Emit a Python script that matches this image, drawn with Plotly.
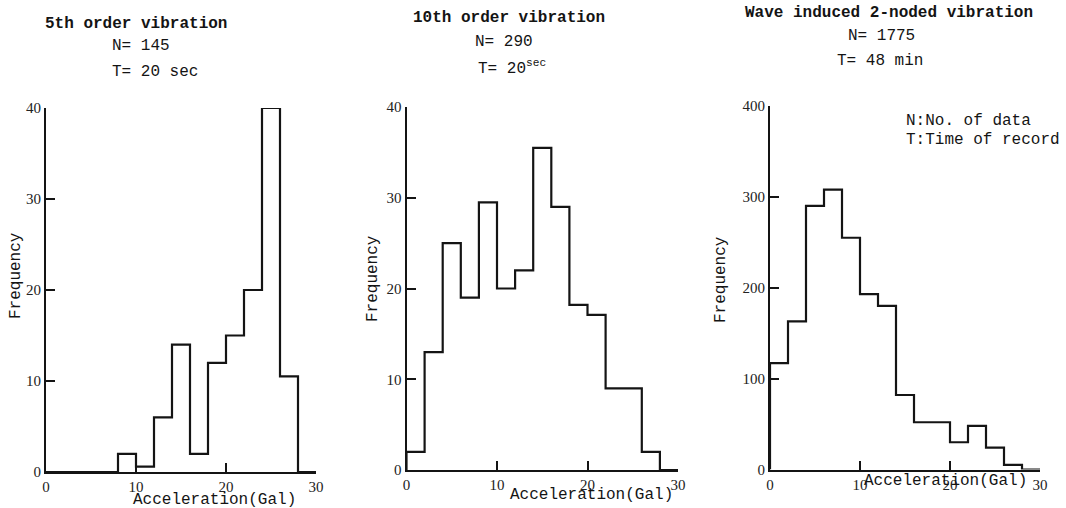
import plotly.graph_objects as go

W, H = 1066, 508

bin_edges = [0, 2, 4, 6, 8, 10, 12, 14, 16, 18, 20, 22, 24, 26, 28, 30]

freq_5th = [0, 0, 0, 0, 2, 0.6, 6, 14, 2, 12, 15, 20, 40, 10.5, 0]
freq_10th = [2, 13, 25, 19, 29.5, 20, 22, 35.5, 29, 18.2, 17.1, 9, 9, 2, 0]
freq_wave = [117, 163, 290, 308, 255, 193, 180, 82, 52, 52, 30, 48, 24, 5, 0]

titles = ["5th order vibration", "10th order vibration", "Wave induced 2-noded vibration"]
n_labels = ["N= 145", "N= 290", "N= 1775"]
t_labels = ["T= 20 sec", "T= 20<sup>sec</sup>", "T= 48 min"]
x_ticks = [0, 10, 20, 30]
y_ticks_small = [0, 10, 20, 30, 40]
y_ticks_big = [0, 100, 200, 300, 400]

# panel geometry in page pixels: (x0, x30, ybase, ytop)
panels = [
    (46, 316, 472, 108),
    (406.5, 678, 470, 107),
    (770, 1040, 469.5, 106),
]
yranges = [40, 40, 400]
series = [freq_5th, freq_10th, freq_wave]
yticks = [y_ticks_small, y_ticks_small, y_ticks_big]

def fx(px):
    return px / W

def fy(py):
    return 1 - py / H

fig = go.Figure()
MONO = "Liberation Mono"
SERIF = "Liberation Serif"
INK = "#141414"

for i in range(3):
    counts = series[i]
    xs, ys = [bin_edges[0]], [0]
    for k, c in enumerate(counts):
        xs += [bin_edges[k], bin_edges[k + 1]]
        ys += [c, c]
    xs.append(bin_edges[-1]); ys.append(0)
    suffix = "" if i == 0 else str(i + 1)
    fig.add_trace(go.Scatter(x=xs, y=ys, mode="lines",
                             line=dict(color=INK, width=2.2),
                             xaxis="x" + suffix, yaxis="y" + suffix,
                             cliponaxis=False, showlegend=False, hoverinfo="skip"))
    x0, x1, yb, yt = panels[i]
    ax = dict(domain=[fx(x0), fx(x1)], range=[0, 30], tickvals=x_ticks,
              ticks="inside", ticklen=9, tickwidth=2, tickcolor=INK,
              showline=True, linewidth=2, linecolor=INK, showgrid=False, zeroline=False,
              tickfont=dict(family=SERIF, size=15, color="#222"),
              automargin=False, anchor="y" + suffix)
    ay = dict(domain=[fy(yb), fy(yt)], range=[0, yranges[i]], tickvals=yticks[i],
              ticks="inside", ticklen=9, tickwidth=2, tickcolor=INK,
              showline=True, linewidth=2, linecolor=INK, showgrid=False, zeroline=False,
              tickfont=dict(family=SERIF, size=15, color="#222"),
              automargin=False, anchor="x" + suffix)
    fig.layout["xaxis" + suffix] = ax
    fig.layout["yaxis" + suffix] = ay

annots = []
def ann(text, px, py, size=16, family=MONO, angle=0, xanchor="center", bold=False):
    if bold:
        text = "<b>" + text + "</b>"
    annots.append(dict(text=text, x=fx(px), y=fy(py), xref="paper", yref="paper",
                       showarrow=False, xanchor=xanchor, yanchor="middle", textangle=angle,
                       font=dict(family=family, size=size, color=INK)))

title_pos = [(136, 24), (509, 18), (889, 13)]
n_pos = [(141, 46), (504, 42), (881, 36)]
t_pos = [(155, 72), (512, 67), (880, 61)]
freq_pos = [(16, 276), (373, 279), (721, 280)]
acc_pos = [(214, 500), (591, 495), (945, 481)]
for i in range(3):
    ann(titles[i], *title_pos[i], size=16, bold=True)
    ann(n_labels[i], *n_pos[i], size=16)
    ann(t_labels[i], *t_pos[i], size=16)
    ann("Frequency", *freq_pos[i], size=16, angle=-90)
    ann("Acceleration(Gal)", *acc_pos[i], size=16)

ann("N:No. of data", 904, 121, size=16, xanchor="left")
ann("T:Time of record", 904, 140, size=16, xanchor="left")

fig.update_layout(width=W, height=H, margin=dict(l=0, r=0, t=0, b=0, autoexpand=False),
                  paper_bgcolor="white", plot_bgcolor="white",
                  annotations=annots, showlegend=False)

fig.write_html("out.html",
               post_script="document.body.style.margin='0';")
